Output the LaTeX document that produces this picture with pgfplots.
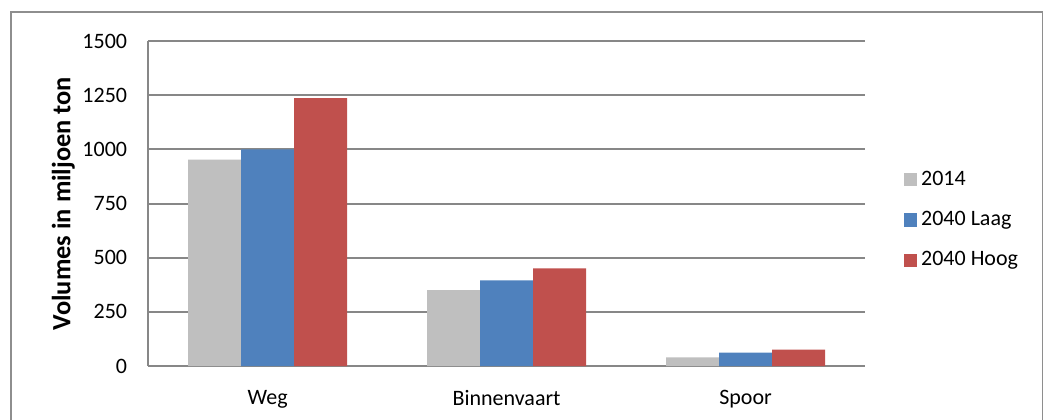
\documentclass[border=0pt]{standalone}
\usepackage{pgfplots}
\pgfplotsset{compat=1.18}
\usepackage{fontspec}
\setmainfont{Carlito}
\definecolor{cgray}{HTML}{BFBFBF}
\definecolor{cblue}{HTML}{4F81BD}
\definecolor{cred}{HTML}{C0504D}
\definecolor{gridc}{HTML}{878787}
\definecolor{framec}{HTML}{8E8E8E}
\begin{document}
\begin{tikzpicture}
\useasboundingbox (0pt,0pt) rectangle (474.5pt,190.45pt);
\draw[framec, line width=0.5pt] (5pt,-5pt) -- (5pt,185.0pt) -- (474.0pt,185.0pt) -- (474.0pt,-5pt);
\begin{axis}[
  at={(67.3pt,24.1pt)}, anchor=south west,
  width=325.9pt, height=147.7pt, scale only axis,
  xmin=-0.5, xmax=2.5, ymin=0, ymax=1500,
  ytick={0,250,500,750,1000,1250,1500},
  xtick={0,1,2}, xticklabels={Weg,Binnenvaart,Spoor},
  major tick length=0pt,
  axis x line*=bottom, axis y line*=left,
  axis line style={gridc, line width=0.9pt, -},
  ymajorgrids, grid style={gridc, line width=0.9pt},
  tick label style={font=\fontsize{10}{12}\selectfont, text=black},
  /pgf/number format/assume math mode=true,
  /pgf/number format/set thousands separator={},
  yticklabel style={xshift=-6pt},
  xticklabel style={yshift=-7.5pt},
  ylabel={Volumes in miljoen ton},
  ylabel style={font=\fontsize{12}{14}\selectfont\bfseries, at={(axis description cs:-0.118,0.5)}, anchor=center, rotate=0},
  legend style={draw=none, fill=none, at={(axis description cs:1.053,0.449)}, anchor=west,
    font=\fontsize{10}{12}\selectfont, row sep=6.3pt, inner sep=0pt,
    legend cell align=left},
  legend image code/.code={\fill[#1] (0pt,-3pt) rectangle (6pt,3pt);},
  every axis plot/.append style={ybar, bar width=24.1pt, draw=none},
]
\addplot[fill=cgray, bar shift=-24.1pt] coordinates {(0,953) (1,350) (2,40)};
\addplot[fill=cblue, bar shift=0pt] coordinates {(0,1000) (1,395) (2,62)};
\addplot[fill=cred, bar shift=24.1pt] coordinates {(0,1236) (1,451) (2,76)};
\legend{2014,2040 Laag,2040 Hoog}
\end{axis}
\end{tikzpicture}
\end{document}
